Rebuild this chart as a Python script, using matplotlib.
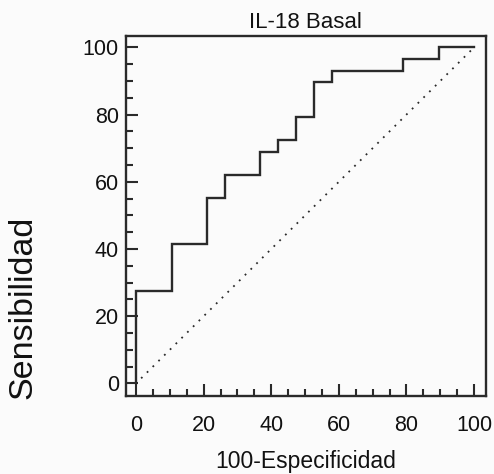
import matplotlib
matplotlib.use('Agg')
import matplotlib.pyplot as plt
from matplotlib.ticker import MultipleLocator
import numpy as np

# ROC curve points (100-specificity, sensitivity)
fpr = [0, 0, 10.5, 10.5, 21.1, 21.1, 26.3, 26.3, 36.8, 36.8, 42.1, 42.1,
       47.4, 47.4, 52.6, 52.6, 57.9, 57.9, 78.9, 78.9, 89.5, 89.5, 100]
tpr = [0, 27.6, 27.6, 41.4, 41.4, 55.2, 55.2, 62.1, 62.1, 69.0, 69.0, 72.4,
       72.4, 79.3, 79.3, 89.7, 89.7, 93.1, 93.1, 96.6, 96.6, 100, 100]
ref_x = [1.5, 100]
ref_y = [1.5, 100]

title = 'IL-18 Basal'
xlab = '100-Especificidad'
ylab = 'Sensibilidad'

plt.rcParams['font.family'] = ['Liberation Sans', 'DejaVu Sans']
col = '#2a2a2a'
tcol = '#111111'

fig = plt.figure(figsize=(4.94, 4.74), dpi=100, facecolor='#fbfbfb')
ax = fig.add_axes([0.2545, 0.1652, 0.7293, 0.7588])
ax.set_facecolor('#fbfbfb')

ax.plot(fpr, tpr, color=col, lw=1.7, solid_joinstyle='miter')
ax.plot(ref_x, ref_y, color=col, lw=1.3, linestyle=(0, (1, 3.5)))

ax.set_xlim(-3.06, 103.55)
ax.set_ylim(-3.67, 103.4)
ax.xaxis.set_major_locator(MultipleLocator(20))
ax.xaxis.set_minor_locator(MultipleLocator(5))
ax.yaxis.set_major_locator(MultipleLocator(20))
ax.yaxis.set_minor_locator(MultipleLocator(5))

ax.tick_params(which='both', direction='in', color=col, width=1.5,
               top=False, right=False)
ax.tick_params(which='major', length=8.5, labelsize=15.5, labelcolor=tcol)
ax.tick_params(which='minor', length=5)
ax.tick_params(axis='x', which='major', pad=14)
ax.tick_params(axis='y', which='major', pad=5)

for s in ax.spines.values():
    s.set_linewidth(1.7)
    s.set_color(col)

ax.set_title(title, fontsize=16, pad=6, color=tcol)
ax.set_xlabel(xlab, fontsize=16.5, labelpad=10, color=tcol)
# y label sits low and far left in the original, centre near (23, 307) px
fig.text(23 / 494, 1 - 307 / 474, ylab, fontsize=24.5, color=tcol,
         rotation=90, ha='center', va='center')

plt.savefig('out.png', dpi=100, facecolor=fig.get_facecolor())
